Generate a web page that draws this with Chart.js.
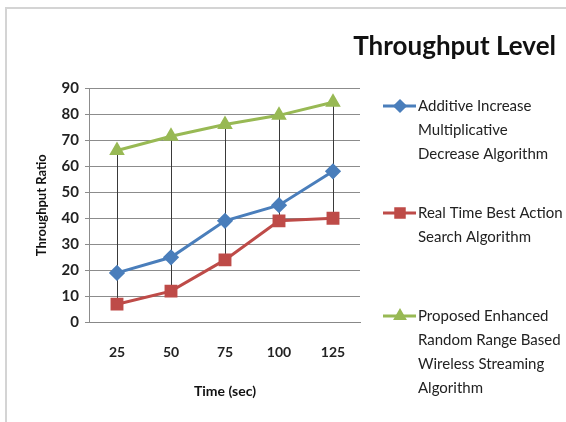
<!DOCTYPE html>
<html>
<head>
<meta charset="utf-8">
<script src="https://cdn.jsdelivr.net/npm/chart.js@4"></script>
<style>
    html, body { margin: 0; padding: 0; background: #fff; overflow: hidden; }
    #wrap { position: relative; width: 566px; height: 422px; overflow: hidden; }
    #frame {
        position: absolute; left: 5px; top: 7px; right: -10px; bottom: -10px;
        border: 2px solid #d4d4d4;
    }
</style>
</head>
<body>
<div id="wrap">
    <div id="frame"></div>
    <canvas id="throughput" width="566" height="422"></canvas>
</div>
<script>
const times = ['25', '50', '75', '100', '125'];
const aimdValues = [19, 25, 39, 45, 58];
const realTimeValues = [7, 12, 24, 39, 40];
const proposedValues = [66, 71.5, 76, 79.5, 84.5];

const aimdLabel = ['Additive Increase', 'Multiplicative', 'Decrease Algorithm'];
const realTimeLabel = ['Real Time Best Action', 'Search Algorithm'];
const proposedLabel = ['Proposed Enhanced', 'Random Range Based', 'Wireless Streaming', 'Algorithm'];

const FONT = 'Lato, "Open Sans", sans-serif';

// vertical high-low lines joining the series at each time step
const hiLoLines = {
    id: 'hiLoLines',
    beforeDatasetsDraw(chart) {
        const ctx = chart.ctx;
        const y = chart.scales.y;
        const metas = chart.data.datasets.map((d, i) => chart.getDatasetMeta(i));
        ctx.save();
        ctx.strokeStyle = '#3a3a3a';
        ctx.lineWidth = 1;
        times.forEach((t, i) => {
            const vals = chart.data.datasets.map(d => d.data[i]);
            const x = metas[0].data[i].x;
            ctx.beginPath();
            ctx.moveTo(Math.round(x) + 0.5, y.getPixelForValue(Math.max(...vals)));
            ctx.lineTo(Math.round(x) + 0.5, y.getPixelForValue(Math.min(...vals)));
            ctx.stroke();
        });
        ctx.restore();
    }
};

// title and multi-line legend on the right side
const sidePanel = {
    id: 'sidePanel',
    afterDraw(chart) {
        const ctx = chart.ctx;
        ctx.save();
        ctx.fillStyle = '#111';
        ctx.font = 'bold 26px ' + FONT;
        ctx.textAlign = 'right';
        ctx.textBaseline = 'middle';
        ctx.fillText('Throughput Level', 556, 47);

        const entries = [
            { lines: aimdLabel, y: 106, ds: 0 },
            { lines: realTimeLabel, y: 213, ds: 1 },
            { lines: proposedLabel, y: 316, ds: 2 }
        ];
        ctx.font = '15px ' + FONT;
        ctx.textAlign = 'left';
        entries.forEach(e => {
            const ds = chart.data.datasets[e.ds];
            ctx.strokeStyle = ds.borderColor;
            ctx.lineWidth = 3;
            ctx.beginPath();
            ctx.moveTo(383, e.y);
            ctx.lineTo(416, e.y);
            ctx.stroke();
            Chart.helpers.drawPoint(ctx, {
                pointStyle: ds.pointStyle,
                radius: ds.pointRadius - 1,
                rotation: 0,
                borderWidth: 1
            }, 400, e.y);
            ctx.fillStyle = ds.backgroundColor;
            ctx.fill();
            ctx.fillStyle = '#222';
            e.lines.forEach((ln, k) => ctx.fillText(ln, 418, e.y + k * 24));
        });
        ctx.restore();
    }
};

new Chart(document.getElementById('throughput'), {
    type: 'line',
    data: {
        labels: times,
        datasets: [{
            label: aimdLabel.join(' '),
            data: aimdValues,
            borderColor: '#4a7ebb',
            backgroundColor: '#4a7ebb',
            borderWidth: 3,
            pointStyle: 'rectRot',
            pointRadius: 6
        }, {
            label: realTimeLabel.join(' '),
            data: realTimeValues,
            borderColor: '#be4b48',
            backgroundColor: '#be4b48',
            borderWidth: 3,
            pointStyle: 'rect',
            pointRadius: 7
        }, {
            label: proposedLabel.join(' '),
            data: proposedValues,
            borderColor: '#98b954',
            backgroundColor: '#98b954',
            borderWidth: 3,
            pointStyle: 'triangle',
            pointRadius: 6
        }]
    },
    options: {
        responsive: false,
        animation: false,
        layout: {
            padding: { top: 88, right: 206, bottom: 18, left: 30 }
        },
        plugins: {
            legend: { display: false },
            tooltip: { enabled: false }
        },
        scales: {
            x: {
                offset: true,
                grid: { display: false, drawTicks: false },
                border: { color: '#888' },
                ticks: {
                    color: '#222',
                    padding: 22,
                    font: { family: FONT, size: 14, weight: 'bold' }
                },
                title: {
                    display: true,
                    text: 'Time (sec)',
                    color: '#111',
                    padding: { top: 0 },
                    font: { family: FONT, size: 14, weight: 'bold' }
                }
            },
            y: {
                min: 0,
                max: 90,
                ticks: {
                    stepSize: 10,
                    color: '#222',
                    padding: 6,
                    font: { family: FONT, size: 15, weight: 'bold' }
                },
                grid: { color: '#8c8c8c', tickLength: 5 },
                border: { color: '#8c8c8c' },
                title: {
                    display: true,
                    text: 'Throughput Ratio',
                    color: '#111',
                    padding: { bottom: 6 },
                    font: { family: FONT, size: 13, weight: 'bold' }
                }
            }
        }
    },
    plugins: [hiLoLines, sidePanel]
});
</script>
</body>
</html>
